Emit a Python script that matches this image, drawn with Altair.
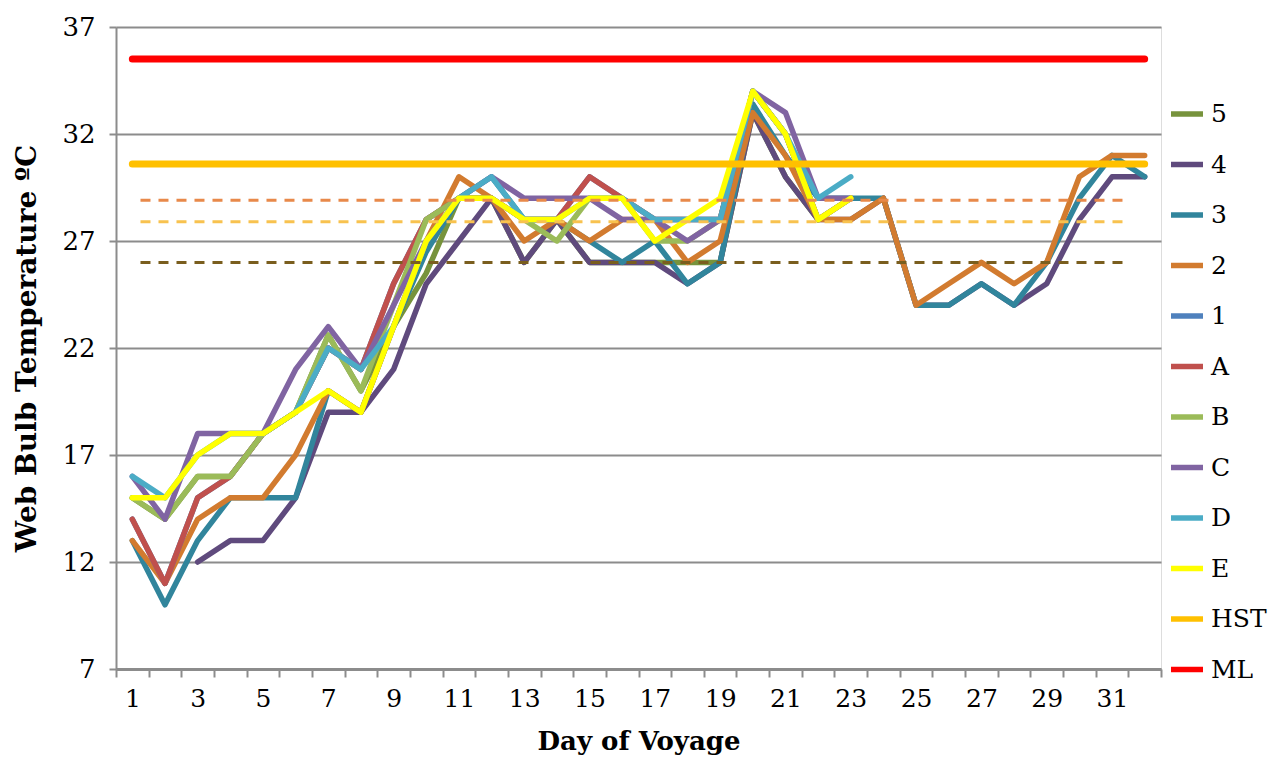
import altair as alt
import pandas as pd

days = list(range(1, 33))

series_names = ["5", "4", "3", "2", "1", "A", "B", "C", "D", "E", "HST", "ML"]
series_colors = ["#77933C", "#5F4A7D", "#31859C", "#D27B2F", "#4F81BD", "#C0504D",
                 "#9BBB59", "#8064A2", "#4BACC6", "#FFFF00", "#FFC000", "#FF0000"]

N = None
s5 = [15, 14, 16, 16, 18, 19, 22.6, 20, 23, 25.5, 29, 29, 26, 28, 26, 26, 26, 26, 26, 33, 30, 28,
      N, N, N, N, N, N, N, N, N, N]
s4 = [N, N, 12, 13, 13, 15, 19, 19, 21, 25, 27, 29, 26, 28, 26, 26, 26, 25, 26, 33, 30, 28,
      28, 29, 24, 24, 25, 24, 25, 28, 30, 30]
s3 = [13, 10, 13, 15, 15, 15, 20, 19, 23, 26.5, 29, 30, 28, 28, 27, 26, 27, 25, 26, 33.4, 31, 29,
      29, 29, 24, 24, 25, 24, 26, 29, 31, 30]
s2 = [13, 11, 14, 15, 15, 17, 20, 19, 23, 27, 30, 29, 27, 28, 27, 28, 28, 26, 27, 33, 31, 28,
      28, 29, 24, 25, 26, 25, 26, 30, 31, 31]
sA = [14, 11, 15, 16, 18, 19, 22, 21, 25, 28, 29, 29, 28, 28, 30, 29, 28, 28, 28, 34, 32, 28,
      29, N, N, N, N, N, N, N, N, N]
s1 = list(sA)
sB = [15, 14, 16, 16, 18, 19, 22.6, 20, 24, 28, 29, 29, 28, 27, 29, 29, 27, 27, 28, 34, 32, 28,
      29, N, N, N, N, N, N, N, N, N]
sC = [16, 14, 18, 18, 18, 21, 23, 21, 24, 27, 29, 30, 29, 29, 29, 28, 28, 27, 28, 34, 33, 29,
      29, N, N, N, N, N, N, N, N, N]
sD = [16, 15, 17, 18, 18, 19, 22, 21, 23, 27, 29, 30, 28, 28, 29, 29, 28, 28, 28, 34, 32, 29,
      30, N, N, N, N, N, N, N, N, N]
sE = [15, 15, 17, 18, 18, 19, 20, 19, 23, 27, 29, 29, 28, 28, 29, 29, 27, 28, 29, 34, 32, 28,
      29, N, N, N, N, N, N, N, N, N]
hst_level = 30.6
ml_level = 35.5
sHST = [hst_level] * len(days)
sML = [ml_level] * len(days)

series_values = [s5, s4, s3, s2, s1, sA, sB, sC, sD, sE, sHST, sML]

# dashed reference lines (level, start day, end day)
ref_levels = [28.9, 27.9, 26.0]
ref_start = [1.25, 1.25, 1.25]
ref_end = [31.35, 31.35, 31.35]
ref_colors = ["#E8894A", "#F8C24F", "#7A5E1E"]

y_ticks = [7, 12, 17, 22, 27, 32, 37]

rows = []
for name, vals in zip(series_names, series_values):
    for d, v in zip(days, vals):
        if v is not None:
            rows.append({"series": name, "day": d, "temp": v})
df = pd.DataFrame(rows)

W, H = 1045, 642
FONT = "DejaVu Serif"
GRID = "#8C8C8C"

tick_positions = [d - 0.5 for d in days] + [days[-1] + 0.5]

x_enc = alt.X("day:Q",
              scale=alt.Scale(domain=[0.5, 32.5], nice=False, zero=False),
              axis=alt.Axis(values=tick_positions, grid=False,
                            labelExpr="(datum.value + 0.5) % 2 == 1 && datum.value < 32 ? format(datum.value + 0.5, 'd') : ''",
                            labelOffset=W / 64, labelOverlap=False, labelBound=False, labelFlush=False,
                            labelFont=FONT, labelFontSize=25, labelColor="#000000", labelPadding=9,
                            tickSize=8, tickWidth=2, tickColor=GRID,
                            domainColor=GRID, domainWidth=3,
                            title="Day of Voyage", titleFont=FONT, titleFontSize=26,
                            titleFontWeight="bold", titleColor="#000000", titlePadding=17))
y_enc = alt.Y("temp:Q",
              scale=alt.Scale(domain=[7, 37], nice=False, zero=False),
              axis=alt.Axis(values=y_ticks, grid=True, gridColor=GRID, gridWidth=2,
                            labelFont=FONT, labelFontSize=26, labelColor="#000000", labelPadding=14,
                            tickSize=7, tickWidth=2, tickColor=GRID,
                            domainColor=GRID, domainWidth=2,
                            title="Web Bulb Temperature ºC", titleFont=FONT, titleFontSize=28,
                            titleFontWeight="bold", titleColor="#000000", titlePadding=20))

color_enc = alt.Color("series:N",
                      scale=alt.Scale(domain=series_names, range=series_colors),
                      legend=alt.Legend(title=None, orient="none", legendX=1052, legendY=68,
                                        symbolType="stroke", symbolStrokeWidth=5.5, symbolSize=1024,
                                        labelFont=FONT, labelFontSize=25, labelColor="#000000",
                                        rowPadding=18.5, labelLimit=200, labelOffset=5))

layers = []
for name in series_names:
    sw = 7 if name in ("HST", "ML") else 5.5
    layers.append(
        alt.Chart(df).transform_filter(alt.datum.series == name)
        .mark_line(strokeWidth=sw, strokeCap="round", strokeJoin="round")
        .encode(x=x_enc, y=y_enc, color=color_enc)
    )

ref_rows = []
for lvl, a, b in zip(ref_levels, ref_start, ref_end):
    ref_rows.append({"ref": str(lvl), "day": a, "temp": lvl})
    ref_rows.append({"ref": str(lvl), "day": b, "temp": lvl})
ref_df = pd.DataFrame(ref_rows)

ref_layers = []
for lvl, col in zip(ref_levels, ref_colors):
    ref_layers.append(
        alt.Chart(ref_df).transform_filter(alt.datum.ref == str(lvl))
        .mark_line(color=col, strokeWidth=3, strokeDash=[10, 8])
        .encode(x=x_enc, y=y_enc)
    )

all_layers = layers[:10] + ref_layers + layers[10:]

chart = alt.layer(*all_layers).properties(
    width=W, height=H,
    autosize=alt.AutoSizeParams(type="none"),
    padding={"left": 108, "top": 19, "right": 117, "bottom": 86},
).configure_view(fill="#EFEFEF", stroke=None).configure(background="#FFFFFF")

chart.save("out.html", embed_options={"renderer": "svg", "actions": False})
